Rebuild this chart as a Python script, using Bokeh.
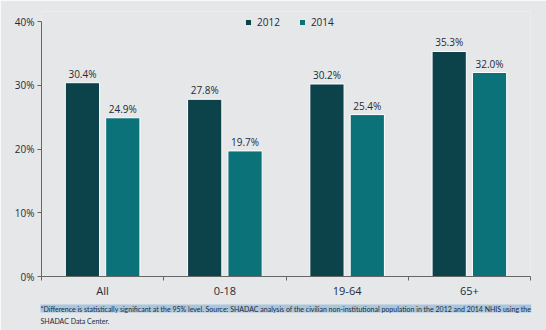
from bokeh.plotting import figure
from bokeh.models import (ColumnDataSource, FixedTicker, Range1d, Legend, LegendItem,
                          Title, PrintfTickFormatter)
from bokeh.core.properties import value
from bokeh.embed import file_html
from bokeh.resources import INLINE

categories = ["All", "0-18", "19-64", "65+"]
v2012 = [30.4, 27.8, 30.2, 35.3]
v2014 = [24.9, 19.7, 25.4, 32.0]
series_names = ["2012", "2014"]
y_ticks = [0, 10, 20, 30, 40]
footnote1 = ("*Difference is statistically significant at the 95% level. Source: SHADAC analysis of the "
             "civilian non-institutional population in the 2012 and 2014 NHIS using the")
footnote2 = "SHADAC Data Center."

BG = "#e6e7e8"
C12 = "#0c424a"
C14 = "#0b727a"
TXT = "#1c2b39"
FONT = "Open Sans"

idx = list(range(len(categories)))
centers = [i + 0.5 for i in idx]
src12 = ColumnDataSource(dict(x=[c - 0.165 for c in centers], y=v2012,
                              lab=[f"{v:.1f}%" for v in v2012]))
src14 = ColumnDataSource(dict(x=[c + 0.165 for c in centers], y=v2014,
                              lab=[f"{v:.1f}%" for v in v2014]))

p = figure(width=546, height=330, output_backend="svg", toolbar_location=None,
           x_range=Range1d(0, len(categories)), y_range=Range1d(0, 41.57),
           background_fill_color=BG, border_fill_color=BG, outline_line_color=None,
           min_border_left=41, min_border_right=16, min_border_top=11, min_border_bottom=54)
p.grid.visible = False

r12 = p.vbar(x="x", top="y", width=0.28, source=src12, fill_color=C12, line_color="white", line_width=1)
r14 = p.vbar(x="x", top="y", width=0.28, source=src14, fill_color=C14, line_color="white", line_width=1)
for s in (src12, src14):
    p.text(x="x", y="y", text="lab", source=s, text_align="center", text_baseline="bottom",
           y_offset=-2, text_font=value(FONT), text_font_size="10px", text_color=TXT)

# axes
p.yaxis.ticker = FixedTicker(ticks=y_ticks)
p.yaxis.bounds = (0, 40)
p.yaxis.formatter = PrintfTickFormatter(format="%d%%")
p.yaxis.axis_line_color = "#666666"
p.yaxis.major_tick_line_color = "#666666"
p.yaxis.major_tick_out = 4
p.yaxis.major_tick_in = 0
p.yaxis.minor_tick_line_color = None
p.yaxis.major_label_text_font = FONT
p.yaxis.major_label_text_font_size = "10px"
p.yaxis.major_label_text_color = TXT
p.yaxis.major_label_standoff = 3

p.xaxis.ticker = FixedTicker(ticks=centers, minor_ticks=[0] + [i + 1 for i in idx])
p.xaxis.major_label_overrides = {c: cat for c, cat in zip(centers, categories)}
p.xaxis.axis_line_color = "#666666"
p.xaxis.major_tick_line_color = None
p.xaxis.minor_tick_line_color = "#666666"
p.xaxis.minor_tick_out = 4
p.xaxis.minor_tick_in = 0
p.xaxis.major_label_text_font = FONT
p.xaxis.major_label_text_font_size = "11px"
p.xaxis.major_label_text_color = TXT
p.xaxis.major_label_standoff = 0

legend = Legend(items=[LegendItem(label=series_names[0], renderers=[r12]),
                       LegendItem(label=series_names[1], renderers=[r14])],
                orientation="horizontal", location=(203, 247), padding=0, margin=0,
                spacing=18, glyph_width=8, glyph_height=8, label_standoff=5,
                label_text_font=FONT, label_text_font_size="10px", label_text_color=TXT,
                background_fill_alpha=0, border_line_color=None, label_height=14)
p.add_layout(legend, "center")

t1 = Title(text=footnote1, align="left", offset=-1, text_font="Lato", text_font_size="7px",
           text_color=TXT, text_font_style="normal", standoff=4, text_line_height=1.0,
           padding=0, background_fill_color="#aac6dd")
t2 = Title(text=footnote2, align="left", offset=-1, text_font="Lato", text_font_size="7px",
           text_color=TXT, text_font_style="normal", standoff=0, text_line_height=1.0,
           padding=0)
p.add_layout(t1, "below")
p.add_layout(t2, "below")

open("out.html", "w").write(file_html(p, INLINE))
